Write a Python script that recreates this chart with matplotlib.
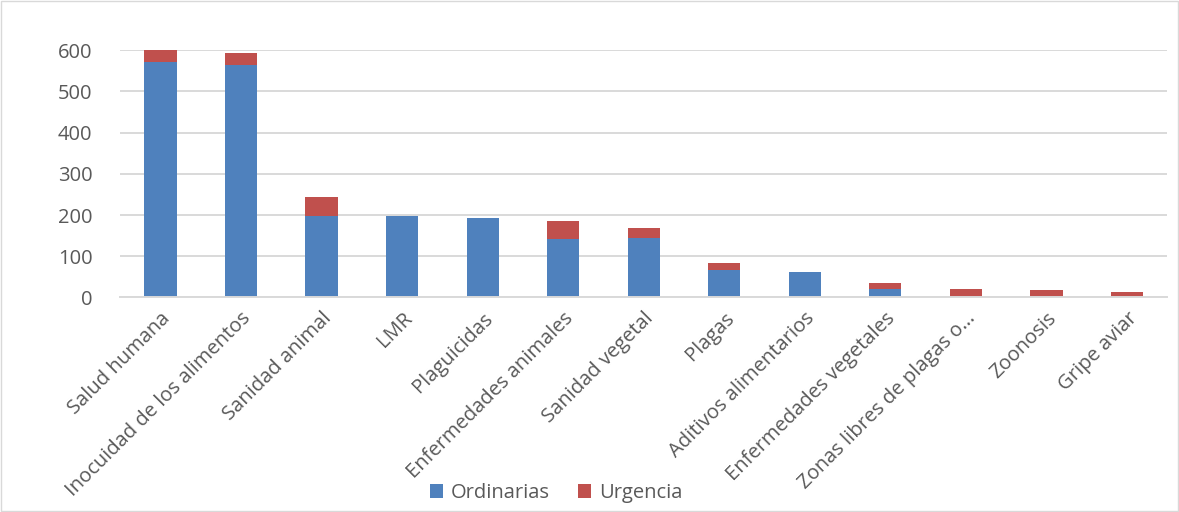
import matplotlib
matplotlib.use("Agg")
import matplotlib.pyplot as plt
import numpy as np

categories = ["Salud humana", "Inocuidad de los alimentos", "Sanidad animal", "LMR",
              "Plaguicidas", "Enfermedades animales", "Sanidad vegetal", "Plagas",
              "Aditivos alimentarios", "Enfermedades vegetales", "Zonas libres de plagas o…",
              "Zoonosis", "Gripe aviar"]
ordinarias = [571, 563, 198, 198, 194, 141, 145, 66, 62, 20, 0, 0, 0]
urgencia = [29, 29, 45, 0, 0, 44, 24, 17, 0, 14, 21, 17, 13]
yticks = [0, 100, 200, 300, 400, 500, 600]

plt.rcParams['font.family'] = ['Open Sans', 'DejaVu Sans']
fig = plt.figure(figsize=(11.79, 5.12), dpi=100)
ax = fig.add_axes([0.102, 0.419, 0.888, 0.483])

x = np.arange(len(categories))
blue = "#4f81bd"
red = "#c0504d"
ax.bar(x, ordinarias, width=0.4, color=blue, label="Ordinarias", zorder=3, linewidth=0)
ax.bar(x, urgencia, width=0.4, bottom=ordinarias, color=red, label="Urgencia", zorder=3,
       linewidth=0)

ax.set_xlim(-0.5, len(categories) - 0.5)
ax.set_ylim(0, 600)
ax.set_yticks(yticks)
ax.yaxis.grid(True, color="#d9d9d9", linewidth=1.4, zorder=0)
ax.set_axisbelow(True)
for s in ["top", "right", "left"]:
    ax.spines[s].set_visible(False)
ax.spines["bottom"].set_color("#d9d9d9")
ax.spines["bottom"].set_linewidth(1.4)
ax.spines["bottom"].set_zorder(4)
ax.tick_params(axis="both", length=0, colors="#595959", labelsize=14.5)
ax.tick_params(axis="y", pad=20)
ax.set_xticks(x)
ax.set_xticklabels(categories, rotation=45, ha="right", rotation_mode="anchor")
ax.tick_params(axis="x", pad=8)

leg = fig.legend(loc="center", bbox_to_anchor=(0.472, 0.037), ncol=2, frameon=False,
                 fontsize=14.5, handlelength=0.65, handleheight=0.65, columnspacing=1.4,
                 handletextpad=0.4, labelcolor="#595959")

fig.patches.append(matplotlib.patches.Rectangle((0.001, 0.001), 0.998, 0.998,
                   transform=fig.transFigure, fill=False, edgecolor="#d9d9d9", linewidth=1))
fig.savefig("out.png", dpi=100, facecolor="white")
